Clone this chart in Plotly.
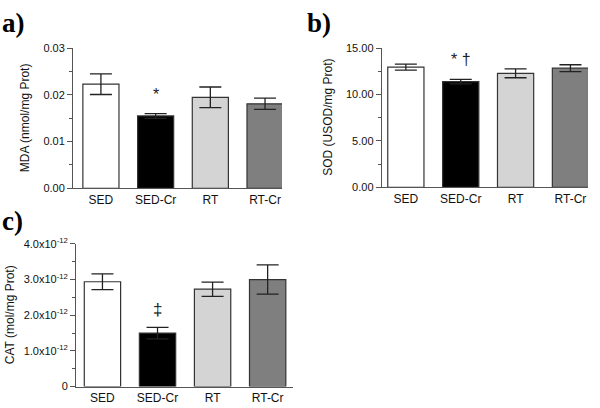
import plotly.graph_objects as go

categories = ["SED", "SED-Cr", "RT", "RT-Cr"]
bar_colors = ["#ffffff", "#000000", "#d4d4d4", "#7f7f7f"]

mda_values = [0.0223, 0.0155, 0.0195, 0.0181]
mda_errors = [0.0022, 0.0005, 0.0022, 0.0012]

sod_values = [12.97, 11.40, 12.30, 12.85]
sod_errors = [0.33, 0.25, 0.48, 0.37]

cat_values = [2.94e-12, 1.50e-12, 2.73e-12, 3.00e-12]
cat_errors = [0.22e-12, 0.16e-12, 0.20e-12, 0.41e-12]

mda_ticks = [0, 0.01, 0.02, 0.03]
mda_ticktext = ["0.00", "0.01", "0.02", "0.03"]
sod_ticks = [0, 5, 10, 15]
sod_ticktext = ["0.00", "5.00", "10.00", "15.00"]
cat_ticks = [0, 1e-12, 2e-12, 3e-12, 4e-12]
cat_ticktext = ["0", "1.0x10<sup>-12</sup>", "2.0x10<sup>-12</sup>",
                "3.0x10<sup>-12</sup>", "4.0x10<sup>-12</sup>"]

FONT = "Liberation Sans"
fig = go.Figure()

panels = [
    ("x", "y", mda_values, mda_errors),
    ("x2", "y2", sod_values, sod_errors),
    ("x3", "y3", cat_values, cat_errors),
]
for xa, ya, vals, errs in panels:
    fig.add_trace(go.Bar(
        x=categories, y=vals, xaxis=xa, yaxis=ya,
        marker=dict(color=bar_colors, line=dict(color="#333333", width=1.2)),
        width=0.66,
        error_y=dict(type="data", array=errs, visible=True, color="#222222",
                     thickness=1.3, width=11),
        showlegend=False,
    ))

xaxis_common = dict(showline=True, linecolor="#555555", linewidth=1,
                    showgrid=False, zeroline=False, ticks="",
                    tickfont=dict(family=FONT, size=12, color="#111111"))
yaxis_common = dict(showline=True, linecolor="#555555", linewidth=1,
                    showgrid=False, zeroline=False,
                    ticks="outside", ticklen=5, tickcolor="#555555",
                    tickfont=dict(family=FONT, size=11, color="#111111"))

fig.update_layout(
    width=600, height=408,
    margin=dict(l=0, r=0, t=0, b=0),
    paper_bgcolor="white", plot_bgcolor="white",
    xaxis=dict(domain=[0.1217, 0.47], anchor="y", type="category",
               range=[-0.51, 3.31], **xaxis_common),
    yaxis=dict(domain=[0.5424, 0.8978], anchor="x", range=[0, 0.03],
               tickvals=mda_ticks, ticktext=mda_ticktext,
               minor=dict(ticks="outside", ticklen=3, tickvals=[0.005, 0.015, 0.025], tickcolor="#555555"),
               **yaxis_common),
    xaxis2=dict(domain=[0.6362, 0.98], anchor="y2", type="category",
                range=[-0.44, 3.32], **xaxis_common),
    yaxis2=dict(domain=[0.5449, 0.8978], anchor="x2", range=[0, 15],
                tickvals=sod_ticks, ticktext=sod_ticktext,
                minor=dict(ticks="outside", ticklen=3, tickvals=[2.5, 7.5, 12.5], tickcolor="#555555"),
                **yaxis_common),
    xaxis3=dict(domain=[0.1267, 0.4883], anchor="y3", type="category",
                range=[-0.48, 3.46], **xaxis_common),
    yaxis3=dict(domain=[0.0392, 0.4012], anchor="x3", range=[0, 4e-12],
                tickvals=cat_ticks, ticktext=cat_ticktext,
                minor=dict(ticks="outside", ticklen=3,
                           tickvals=[0.5e-12, 1.5e-12, 2.5e-12, 3.5e-12], tickcolor="#555555"),
                **yaxis_common),
)

anns = []
# panel letters
for txt, x, y in [("a)", 0.0, 1.005), ("b)", 0.508, 1.005), ("c)", 0.0, 0.502)]:
    anns.append(dict(text="<b>" + txt + "</b>", x=x, y=y, xref="paper", yref="paper",
                     xanchor="left", yanchor="top", showarrow=False,
                     font=dict(family="Liberation Serif", size=27, color="black")))
# y titles
for txt, x, y in [("MDA (nmol/mg Prot)", 25 / 600, (0.5424 + 0.8978) / 2),
                  ("SOD (USOD/mg Prot)", 328 / 600, (0.5449 + 0.8978) / 2),
                  ("CAT (mol/mg Prot)", 10 / 600, (0.0392 + 0.4012) / 2)]:
    anns.append(dict(text=txt, x=x, y=y, xref="paper", yref="paper", textangle=-90,
                     xanchor="center", yanchor="middle", showarrow=False,
                     font=dict(family=FONT, size=12, color="#111111")))
# significance marks
anns.append(dict(text="*", x="SED-Cr", y=0.0200, xref="x", yref="y", showarrow=False,
                 font=dict(family=FONT, size=16, color="#222222")))
anns.append(dict(text="* †", x="SED-Cr", y=13.8, xref="x2", yref="y2", showarrow=False,
                 font=dict(family=FONT, size=16, color="#222222")))
anns.append(dict(text="‡", x="SED-Cr", y=2.15e-12, xref="x3", yref="y3", showarrow=False,
                 font=dict(family=FONT, size=17, color="#222222")))
fig.update_layout(annotations=anns)

fig.write_html("out.html", config={"displayModeBar": False},
               post_script="document.body.style.margin='0';document.body.style.overflow='hidden';")
